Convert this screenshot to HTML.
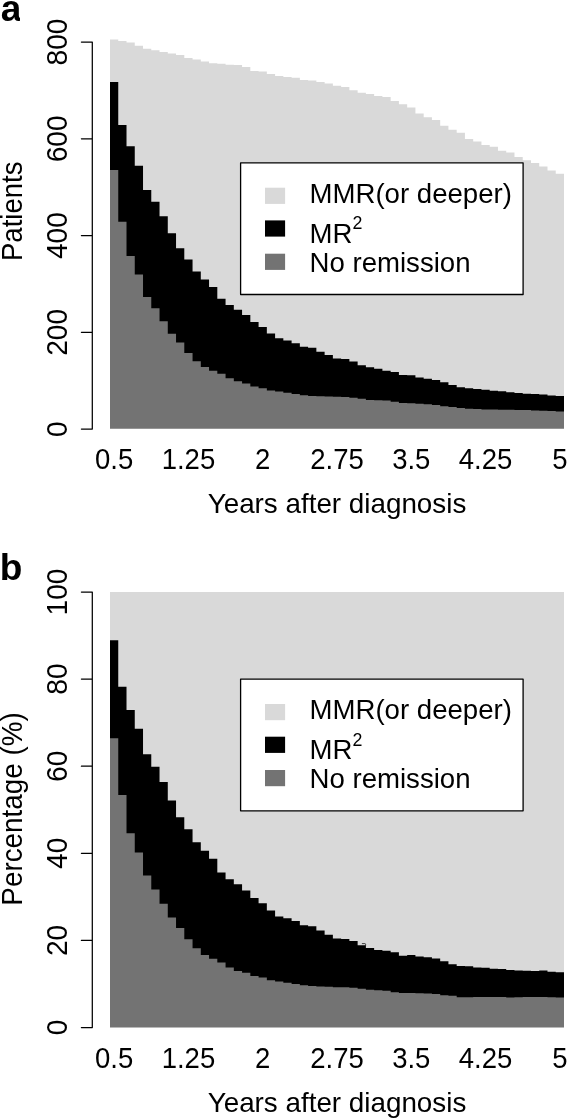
<!DOCTYPE html>
<html><head><meta charset="utf-8"><title>Figure</title>
<style>html,body{margin:0;padding:0;background:#fff}svg{display:block;filter:grayscale(1)}text{font-family:"Liberation Sans",sans-serif;fill:#000}</style>
</head><body>
<svg width="569" height="1119" viewBox="0 0 569 1119">
<rect x="0" y="0" width="569" height="1119" fill="#fff"/>
<g>
<polygon fill="#d9d9d9" points="110.00,426.00 110.00,39.60 118.25,39.60 118.25,41.10 126.51,41.10 126.51,42.40 134.76,42.40 134.76,45.70 143.02,45.70 143.02,48.80 151.27,48.80 151.27,50.20 159.53,50.20 159.53,52.10 167.78,52.10 167.78,53.50 176.04,53.50 176.04,55.10 184.29,55.10 184.29,57.90 192.55,57.90 192.55,59.50 200.80,59.50 200.80,61.60 209.05,61.60 209.05,63.30 217.31,63.30 217.31,63.80 225.56,63.80 225.56,64.80 233.82,64.80 233.82,65.10 242.07,65.10 242.07,67.00 250.33,67.00 250.33,71.00 258.58,71.00 258.58,71.60 266.84,71.60 266.84,74.10 275.09,74.10 275.09,76.10 283.34,76.10 283.34,76.90 291.60,76.90 291.60,77.75 299.85,77.75 299.85,80.10 308.11,80.10 308.11,80.50 316.36,80.50 316.36,82.00 324.62,82.00 324.62,83.50 332.87,83.50 332.87,85.75 341.13,85.75 341.13,87.00 349.38,87.00 349.38,90.30 357.63,90.30 357.63,92.75 365.89,92.75 365.89,93.95 374.14,93.95 374.14,96.10 382.40,96.10 382.40,97.10 390.65,97.10 390.65,101.00 398.91,101.00 398.91,104.30 407.16,104.30 407.16,107.40 415.42,107.40 415.42,113.50 423.67,113.50 423.67,117.20 431.93,117.20 431.93,120.05 440.18,120.05 440.18,125.75 448.43,125.75 448.43,129.70 456.69,129.70 456.69,132.75 464.94,132.75 464.94,138.90 473.20,138.90 473.20,141.60 481.45,141.60 481.45,145.00 489.71,145.00 489.71,146.65 497.96,146.65 497.96,150.80 506.22,150.80 506.22,152.60 514.47,152.60 514.47,157.00 522.73,157.00 522.73,160.30 530.98,160.30 530.98,163.00 539.23,163.00 539.23,166.45 547.49,166.45 547.49,170.40 555.74,170.40 555.74,173.80 564.00,173.80 564.00,426.00"/>
<polygon fill="#000" points="110.00,426.00 110.00,82.00 118.25,82.00 118.25,125.00 126.51,125.00 126.51,146.25 134.76,146.25 134.76,165.75 143.02,165.75 143.02,190.00 151.27,190.00 151.27,201.75 159.53,201.75 159.53,216.25 167.78,216.25 167.78,233.25 176.04,233.25 176.04,248.25 184.29,248.25 184.29,259.40 192.55,259.40 192.55,271.50 200.80,271.50 200.80,279.60 209.05,279.60 209.05,287.00 217.31,287.00 217.31,298.75 225.56,298.75 225.56,305.00 233.82,305.00 233.82,309.70 242.07,309.70 242.07,315.10 250.33,315.10 250.33,322.05 258.58,322.05 258.58,326.90 266.84,326.90 266.84,333.50 275.09,333.50 275.09,338.20 283.34,338.20 283.34,340.40 291.60,340.40 291.60,343.20 299.85,343.20 299.85,346.80 308.11,346.80 308.11,347.80 316.36,347.80 316.36,351.70 324.62,351.70 324.62,355.00 332.87,355.00 332.87,358.40 341.13,358.40 341.13,359.10 349.38,359.10 349.38,361.50 357.63,361.50 357.63,365.20 365.89,365.20 365.89,367.20 374.14,367.20 374.14,368.80 382.40,368.80 382.40,370.70 390.65,370.70 390.65,372.05 398.91,372.05 398.91,375.00 407.16,375.00 407.16,375.30 415.42,375.30 415.42,377.50 423.67,377.50 423.67,378.70 431.93,378.70 431.93,380.00 440.18,380.00 440.18,382.30 448.43,382.30 448.43,385.00 456.69,385.00 456.69,387.20 464.94,387.20 464.94,388.20 473.20,388.20 473.20,389.10 481.45,389.10 481.45,389.70 489.71,389.70 489.71,390.70 497.96,390.70 497.96,391.25 506.22,391.25 506.22,392.30 514.47,392.30 514.47,392.90 522.73,392.90 522.73,393.80 530.98,393.80 530.98,394.10 539.23,394.10 539.23,394.40 547.49,394.40 547.49,395.40 555.74,395.40 555.74,396.00 564.00,396.00 564.00,426.00"/>
<polygon fill="#737373" points="110.00,428.70 110.00,170.00 118.25,170.00 118.25,221.75 126.51,221.75 126.51,256.00 134.76,256.00 134.76,274.50 143.02,274.50 143.02,297.00 151.27,297.00 151.27,308.25 159.53,308.25 159.53,321.25 167.78,321.25 167.78,333.75 176.04,333.75 176.04,342.50 184.29,342.50 184.29,353.00 192.55,353.00 192.55,361.25 200.80,361.25 200.80,367.00 209.05,367.00 209.05,370.75 217.31,370.75 217.31,373.75 225.56,373.75 225.56,378.25 233.82,378.25 233.82,381.25 242.07,381.25 242.07,383.60 250.33,383.60 250.33,386.50 258.58,386.50 258.58,388.20 266.84,388.20 266.84,390.40 275.09,390.40 275.09,391.60 283.34,391.60 283.34,392.80 291.60,392.80 291.60,394.10 299.85,394.10 299.85,395.30 308.11,395.30 308.11,396.00 316.36,396.00 316.36,396.30 324.62,396.30 324.62,396.40 332.87,396.40 332.87,396.80 341.13,396.80 341.13,396.90 349.38,396.90 349.38,397.80 357.63,397.80 357.63,398.80 365.89,398.80 365.89,399.90 374.14,399.90 374.14,400.20 382.40,400.20 382.40,400.60 390.65,400.60 390.65,401.80 398.91,401.80 398.91,403.00 407.16,403.00 407.16,403.30 415.42,403.30 415.42,403.70 423.67,403.70 423.67,404.30 431.93,404.30 431.93,404.90 440.18,404.90 440.18,406.30 448.43,406.30 448.43,406.90 456.69,406.90 456.69,408.10 464.94,408.10 464.94,408.70 473.20,408.70 473.20,409.10 481.45,409.10 481.45,409.40 489.71,409.40 489.71,409.60 497.96,409.60 497.96,409.70 506.22,409.70 506.22,409.80 514.47,409.80 514.47,410.00 522.73,410.00 522.73,410.10 530.98,410.10 530.98,410.40 539.23,410.40 539.23,410.75 547.49,410.75 547.49,411.10 555.74,411.10 555.74,411.40 564.00,411.40 564.00,428.70"/>
<polygon fill="#d9d9d9" points="110.00,1024.00 110.00,592.00 118.25,592.00 118.25,592.00 126.51,592.00 126.51,592.00 134.76,592.00 134.76,592.00 143.02,592.00 143.02,592.00 151.27,592.00 151.27,592.00 159.53,592.00 159.53,592.00 167.78,592.00 167.78,592.00 176.04,592.00 176.04,592.00 184.29,592.00 184.29,592.00 192.55,592.00 192.55,592.00 200.80,592.00 200.80,592.00 209.05,592.00 209.05,592.00 217.31,592.00 217.31,592.00 225.56,592.00 225.56,592.00 233.82,592.00 233.82,592.00 242.07,592.00 242.07,592.00 250.33,592.00 250.33,592.00 258.58,592.00 258.58,592.00 266.84,592.00 266.84,592.00 275.09,592.00 275.09,592.00 283.34,592.00 283.34,592.00 291.60,592.00 291.60,592.00 299.85,592.00 299.85,592.00 308.11,592.00 308.11,592.00 316.36,592.00 316.36,592.00 324.62,592.00 324.62,592.00 332.87,592.00 332.87,592.00 341.13,592.00 341.13,592.00 349.38,592.00 349.38,592.00 357.63,592.00 357.63,592.00 365.89,592.00 365.89,592.00 374.14,592.00 374.14,592.00 382.40,592.00 382.40,592.00 390.65,592.00 390.65,592.00 398.91,592.00 398.91,592.00 407.16,592.00 407.16,592.00 415.42,592.00 415.42,592.00 423.67,592.00 423.67,592.00 431.93,592.00 431.93,592.00 440.18,592.00 440.18,592.00 448.43,592.00 448.43,592.00 456.69,592.00 456.69,592.00 464.94,592.00 464.94,592.00 473.20,592.00 473.20,592.00 481.45,592.00 481.45,592.00 489.71,592.00 489.71,592.00 497.96,592.00 497.96,592.00 506.22,592.00 506.22,592.00 514.47,592.00 514.47,592.00 522.73,592.00 522.73,592.00 530.98,592.00 530.98,592.00 539.23,592.00 539.23,592.00 547.49,592.00 547.49,592.00 555.74,592.00 555.74,592.00 564.00,592.00 564.00,1024.00"/>
<polygon fill="#000" points="110.00,1024.00 110.00,640.20 118.25,640.20 118.25,686.75 126.51,686.75 126.51,710.00 134.76,710.00 134.76,728.75 143.02,728.75 143.02,754.25 151.27,754.25 151.27,766.75 159.53,766.75 159.53,782.00 167.78,782.00 167.78,800.50 176.04,800.50 176.04,817.25 184.29,817.25 184.29,829.25 192.55,829.25 192.55,842.25 200.80,842.25 200.80,850.75 209.05,850.75 209.05,858.75 217.31,858.75 217.31,872.50 225.56,872.50 225.56,879.25 233.82,879.25 233.82,884.25 242.07,884.25 242.07,890.50 250.33,890.50 250.33,897.90 258.58,897.90 258.58,903.20 266.84,903.20 266.84,910.60 275.09,910.60 275.09,916.40 283.34,916.40 283.34,918.20 291.60,918.20 291.60,920.90 299.85,920.90 299.85,925.20 308.11,925.20 308.11,926.30 316.36,926.30 316.36,930.40 324.62,930.40 324.62,934.70 332.87,934.70 332.87,938.60 341.13,938.60 341.13,939.00 349.38,939.00 349.38,941.00 357.63,941.00 357.63,945.30 365.89,945.30 365.89,948.00 374.14,948.00 374.14,949.90 382.40,949.90 382.40,950.80 390.65,950.80 390.65,952.30 398.91,952.30 398.91,955.75 407.16,955.75 407.16,955.00 415.42,955.00 415.42,956.60 423.67,956.60 423.67,957.20 431.93,957.20 431.93,958.40 440.18,958.40 440.18,961.30 448.43,961.30 448.43,964.30 456.69,964.30 456.69,966.05 464.94,966.05 464.94,966.30 473.20,966.30 473.20,967.60 481.45,967.60 481.45,967.80 489.71,967.80 489.71,968.70 497.96,968.70 497.96,969.00 506.22,969.00 506.22,970.00 514.47,970.00 514.47,970.40 522.73,970.40 522.73,970.75 530.98,970.75 530.98,971.00 539.23,971.00 539.23,970.50 547.49,970.50 547.49,971.70 555.74,971.70 555.74,972.20 564.00,972.20 564.00,1024.00"/>
<polygon fill="#737373" points="110.00,1027.40 110.00,738.25 118.25,738.25 118.25,795.00 126.51,795.00 126.51,833.25 134.76,833.25 134.76,852.50 143.02,852.50 143.02,875.60 151.27,875.60 151.27,889.50 159.53,889.50 159.53,903.75 167.78,903.75 167.78,917.50 176.04,917.50 176.04,928.00 184.29,928.00 184.29,939.25 192.55,939.25 192.55,948.25 200.80,948.25 200.80,955.00 209.05,955.00 209.05,958.75 217.31,958.75 217.31,962.50 225.56,962.50 225.56,967.50 233.82,967.50 233.82,971.00 242.07,971.00 242.07,972.70 250.33,972.70 250.33,976.00 258.58,976.00 258.58,977.50 266.84,977.50 266.84,980.30 275.09,980.30 275.09,981.55 283.34,981.55 283.34,982.80 291.60,982.80 291.60,984.00 299.85,984.00 299.85,985.25 308.11,985.25 308.11,986.00 316.36,986.00 316.36,986.50 324.62,986.50 324.62,986.70 332.87,986.70 332.87,987.20 341.13,987.20 341.13,987.20 349.38,987.20 349.38,987.80 357.63,987.80 357.63,988.80 365.89,988.80 365.89,989.75 374.14,989.75 374.14,990.25 382.40,990.25 382.40,990.70 390.65,990.70 390.65,992.30 398.91,992.30 398.91,993.10 407.16,993.10 407.16,993.10 415.42,993.10 415.42,993.25 423.67,993.25 423.67,993.60 431.93,993.60 431.93,994.05 440.18,994.05 440.18,995.30 448.43,995.30 448.43,995.80 456.69,995.80 456.69,997.30 464.94,997.30 464.94,997.20 473.20,997.20 473.20,997.10 481.45,997.10 481.45,997.10 489.71,997.10 489.71,997.10 497.96,997.10 497.96,997.10 506.22,997.10 506.22,997.40 514.47,997.40 514.47,997.30 522.73,997.30 522.73,997.00 530.98,997.00 530.98,996.90 539.23,996.90 539.23,997.00 547.49,997.00 547.49,997.30 555.74,997.30 555.74,997.60 564.00,997.60 564.00,1027.40"/>
<path d="M361.9 943.6H364.9Q365.6 943.6 365.6 944.4V945.6" fill="none" stroke="#000" stroke-width="0.7"/>
</g>
<path d="M81.40 42.00H92.30V429.10H81.40M81.40 138.80H92.30M81.40 235.55H92.30M81.40 332.30H92.30" fill="none" stroke="#000" stroke-width="1.25" stroke-linejoin="round" stroke-linecap="round"/>
<path d="M81.40 592.00H92.30V1027.50H81.40M81.40 679.10H92.30M81.40 766.20H92.30M81.40 853.30H92.30M81.40 940.40H92.30" fill="none" stroke="#000" stroke-width="1.25" stroke-linejoin="round" stroke-linecap="round"/>
<text transform="translate(66.50 42.00) rotate(-90) scale(1 1.05)" text-anchor="middle" font-size="28.20">800</text>
<text transform="translate(66.50 138.80) rotate(-90) scale(1 1.05)" text-anchor="middle" font-size="28.20">600</text>
<text transform="translate(66.50 235.55) rotate(-90) scale(1 1.05)" text-anchor="middle" font-size="28.20">400</text>
<text transform="translate(66.50 332.30) rotate(-90) scale(1 1.05)" text-anchor="middle" font-size="28.20">200</text>
<text transform="translate(66.50 429.10) rotate(-90) scale(1 1.05)" text-anchor="middle" font-size="28.20">0</text>
<text transform="translate(66.50 592.00) rotate(-90) scale(1 1.05)" text-anchor="middle" font-size="28.20">100</text>
<text transform="translate(66.50 679.10) rotate(-90) scale(1 1.05)" text-anchor="middle" font-size="28.20">80</text>
<text transform="translate(66.50 766.20) rotate(-90) scale(1 1.05)" text-anchor="middle" font-size="28.20">60</text>
<text transform="translate(66.50 853.30) rotate(-90) scale(1 1.05)" text-anchor="middle" font-size="28.20">40</text>
<text transform="translate(66.50 940.40) rotate(-90) scale(1 1.05)" text-anchor="middle" font-size="28.20">20</text>
<text transform="translate(66.50 1027.50) rotate(-90) scale(1 1.05)" text-anchor="middle" font-size="28.20">0</text>
<text transform="translate(22.2 211.3) rotate(-90) scale(1 1.085)" text-anchor="middle" font-size="27.50">Patients</text>
<text transform="translate(22.2 808.9) rotate(-90) scale(1 1.075)" text-anchor="middle" font-size="27.85">Percentage (%)</text>
<text transform="translate(114.13 468.50) scale(1 1.04)" text-anchor="middle" font-size="27.50">0.5</text>
<text transform="translate(188.42 468.50) scale(1 1.04)" text-anchor="middle" font-size="27.50">1.25</text>
<text transform="translate(262.71 468.50) scale(1 1.04)" text-anchor="middle" font-size="27.50">2</text>
<text transform="translate(337.00 468.50) scale(1 1.04)" text-anchor="middle" font-size="27.50">2.75</text>
<text transform="translate(411.29 468.50) scale(1 1.04)" text-anchor="middle" font-size="27.50">3.5</text>
<text transform="translate(485.58 468.50) scale(1 1.04)" text-anchor="middle" font-size="27.50">4.25</text>
<text transform="translate(559.87 468.50) scale(1 1.04)" text-anchor="middle" font-size="27.50">5</text>
<text transform="translate(114.13 1067.50) scale(1 1.04)" text-anchor="middle" font-size="27.50">0.5</text>
<text transform="translate(188.42 1067.50) scale(1 1.04)" text-anchor="middle" font-size="27.50">1.25</text>
<text transform="translate(262.71 1067.50) scale(1 1.04)" text-anchor="middle" font-size="27.50">2</text>
<text transform="translate(337.00 1067.50) scale(1 1.04)" text-anchor="middle" font-size="27.50">2.75</text>
<text transform="translate(411.29 1067.50) scale(1 1.04)" text-anchor="middle" font-size="27.50">3.5</text>
<text transform="translate(485.58 1067.50) scale(1 1.04)" text-anchor="middle" font-size="27.50">4.25</text>
<text transform="translate(559.87 1067.50) scale(1 1.04)" text-anchor="middle" font-size="27.50">5</text>
<text x="337" y="512.50" text-anchor="middle" font-size="27.80">Years after diagnosis</text>
<text x="337" y="1111.50" text-anchor="middle" font-size="27.80">Years after diagnosis</text>
<clipPath id="ca"><rect x="0" y="0" width="20" height="30"/></clipPath>
<text x="0.8" y="21.4" font-size="37" font-weight="bold" clip-path="url(#ca)">a</text>
<text x="-0.3" y="580.4" font-size="37" font-weight="bold">b</text>
<rect x="240.6" y="162.80" width="282.5" height="131.7" fill="#fff" stroke="#000" stroke-width="1.3" stroke-linejoin="round"/>
<rect x="265" y="187.70" width="20.1" height="16.2" fill="#d9d9d9"/>
<rect x="265" y="220.40" width="20.1" height="16.2" fill="#000"/>
<rect x="265" y="253.70" width="20.1" height="16.2" fill="#737373"/>
<text x="309.5" y="202.80" font-size="27.6">MMR(or deeper)</text>
<text x="309.5" y="242.80" font-size="27.6">MR<tspan font-size="17.8" dy="-13.6">2</tspan></text>
<text x="309.5" y="272.00" font-size="27.6">No remission</text>
<rect x="240.6" y="679.10" width="282.5" height="131.7" fill="#fff" stroke="#000" stroke-width="1.3" stroke-linejoin="round"/>
<rect x="265" y="704.00" width="20.1" height="16.2" fill="#d9d9d9"/>
<rect x="265" y="736.70" width="20.1" height="16.2" fill="#000"/>
<rect x="265" y="770.00" width="20.1" height="16.2" fill="#737373"/>
<text x="309.5" y="719.10" font-size="27.6">MMR(or deeper)</text>
<text x="309.5" y="759.10" font-size="27.6">MR<tspan font-size="17.8" dy="-13.6">2</tspan></text>
<text x="309.5" y="788.30" font-size="27.6">No remission</text>
</svg></body></html>
